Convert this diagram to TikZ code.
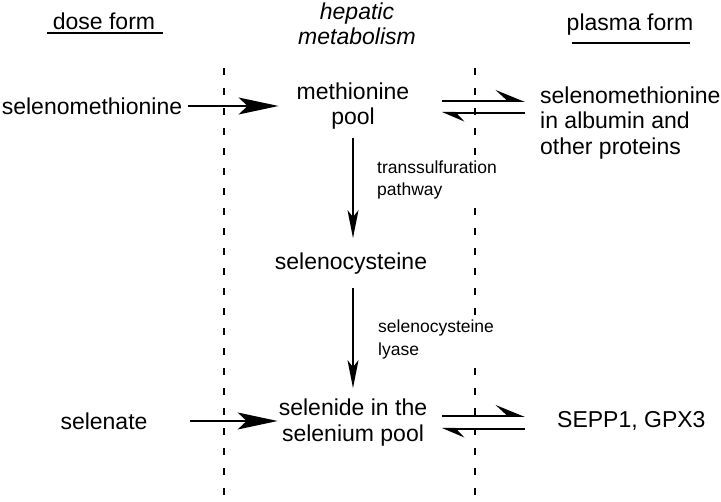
\documentclass[tikz,border=0pt]{standalone}
\usepackage{fontspec}
\setmainfont{Liberation Sans}
\usetikzlibrary{arrows.meta,calc}
\begin{document}
\begin{tikzpicture}[x=1pt,y=-1pt,
  txt/.style={font=\fontsize{23}{25.5}\selectfont, inner sep=0pt, align=center},
  lbl/.style={font=\fontsize{17.5}{22.5}\selectfont, inner sep=4pt, align=left, fill=white, anchor=west},
  sepline/.style={line width=2.2pt, dash pattern=on 7pt off 13pt},
  rulebar/.style={line width=2pt},
  bigarrow/.style={line width=1.8pt, -{Stealth[length=40pt, width=17pt, inset=9pt]}},
  downarrow/.style={line width=1.5pt, -{Stealth[length=28pt, width=11pt, inset=7pt]}},
  fwdharp/.style={line width=2pt, -{Stealth[harpoon, length=27pt, width=22pt, inset=12pt]}},
  backharp/.style={line width=2pt, -{Stealth[harpoon, length=20pt, width=17pt, inset=8pt]}}
]
\useasboundingbox (0,0) rectangle (721,502);
\fill[white] (0,0) rectangle (721,502);

% separators
\coordinate (s1t) at (224,68);
\coordinate (s1b) at (224,502);
\coordinate (s2t) at (475,68);
\coordinate (s2b) at (475,502);
\draw[sepline] (s1t) -- (s1b);
\draw[sepline] (s2t) -- (s2b);

% headers
\node[txt] (dose) at (104,21.7) {dose form};
\node[txt, font=\fontsize{23}{25}\selectfont\itshape] (hep) at (357,24) {hepatic\\metabolism};
\node[txt] (plasma) at (630,25) {plasma form};
\draw[rulebar] ($(dose.base west)+(-6,3.3)$) -- ($(dose.base east)+(8,3.3)$);
\draw[rulebar] ($(plasma.base west)+(5,12)$) -- ($(plasma.base east)+(-3,12)$);

% nodes
\node[txt] (sm) at (92,106) {selenomethionine};
\node[txt] (pool) at (353,106) {methionine\\pool};
\node[txt, align=left, anchor=west] (prot) at (540,123) {selenomethionine\\in albumin and\\other proteins};
\node[txt] (selcys) at (351,264) {selenocysteine};
\node[txt] (selenate) at (104,421) {selenate};
\node[txt, font=\fontsize{23}{26}\selectfont] (selenide) at (353,423) {selenide in the\\selenium pool};
\node[txt, anchor=west] (sepp) at (557,421) {SEPP1, GPX3};

% enzyme labels (cover the dashed line)
\node[lbl] (trans) at (373,180) {transsulfuration\\pathway};
\node[lbl] (lyase) at (374,339.5) {selenocysteine\\lyase};

% forward arrows
\draw[bigarrow] ([xshift=6pt]sm.east) -- ([xshift=-18pt]pool.west |- sm.east);
\draw[bigarrow] ([xshift=42pt]selenate.east) -- ([xshift=-1pt]selenide.west |- selenate.east);

% vertical arrows
\draw[downarrow] ([yshift=-8pt]pool.south) -- ([yshift=15pt]selcys.north -| pool.south);
\draw[downarrow] ([yshift=-13pt]selcys.south -| pool.south) -- ([yshift=11pt]selenide.north);

% equilibrium arrows
\coordinate (e1a) at (442,101);
\coordinate (e1b) at (525,101);
\coordinate (e2a) at (442,113);
\coordinate (e2b) at (525,113);
\coordinate (e3a) at (442,416);
\coordinate (e3b) at (525,416);
\coordinate (e4a) at (442,429);
\coordinate (e4b) at (525,429);
\draw[fwdharp] (e1a) -- (e1b);
\draw[backharp] (e2b) -- (e2a);
\draw[fwdharp] (e3a) -- (e3b);
\draw[backharp] (e4b) -- (e4a);
\end{tikzpicture}
\end{document}
